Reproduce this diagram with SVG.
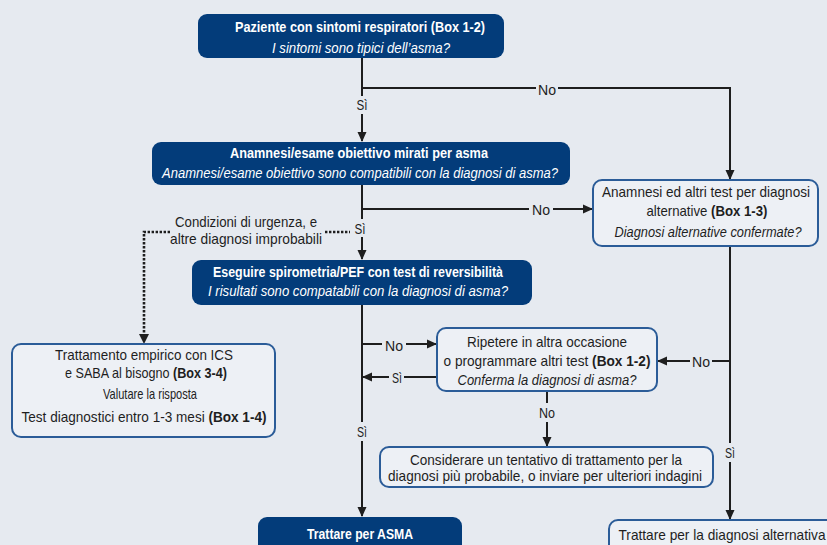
<svg xmlns="http://www.w3.org/2000/svg" width="827" height="545" viewBox="0 0 827 545">
<defs>
<style>
.bg{fill:#e6eaf0}
.blue{fill:#033c7a}
.out{fill:#edf0f5;stroke:#2b5c98;stroke-width:2}
.wt{fill:#ffffff;font-family:"Liberation Sans",Arial,sans-serif;font-size:15px;text-anchor:middle}
.dt{fill:#1e1e1e;font-family:"Liberation Sans",Arial,sans-serif;font-size:15px;text-anchor:middle}
.b{font-weight:bold}
.i{font-style:italic}
.ln{stroke:#1e1e1e;stroke-width:2;fill:none}
.dot{stroke:#1e1e1e;stroke-width:2.6;fill:none;stroke-dasharray:2.4 1.6}
</style>
<marker id="ah" markerWidth="10" markerHeight="10" refX="9" refY="5" orient="auto" markerUnits="userSpaceOnUse">
<path d="M0,0.5 L10,5 L0,9.5 Z" fill="#1e1e1e"/>
</marker>
</defs>
<rect class="bg" x="0" y="0" width="827" height="545"/>

<g id="connectors">
<!-- top box down to box2 -->
<line class="ln" x1="362" y1="58" x2="362" y2="96"/>
<line class="ln" x1="362" y1="114" x2="362" y2="141" marker-end="url(#ah)"/>
<!-- No branch to right box -->
<line class="ln" x1="362" y1="88" x2="536" y2="88"/>
<polyline class="ln" points="558,88 730,88 730,179" marker-end="url(#ah)"/>
<!-- box2 down to box3 -->
<line class="ln" x1="362" y1="185" x2="362" y2="219"/>
<line class="ln" x1="362" y1="237" x2="362" y2="259" marker-end="url(#ah)"/>
<!-- No branch to right box middle -->
<line class="ln" x1="362" y1="209" x2="529" y2="209"/>
<line class="ln" x1="553" y1="209" x2="592" y2="209" marker-end="url(#ah)"/>
<!-- dotted urgent path -->
<line class="dot" x1="325" y1="232" x2="350" y2="232"/>
<polyline class="dot" points="170,232 144,232 144,334"/>
<path d="M139,334 L149,334 L144,344 Z" fill="#1e1e1e"/>
<!-- box3 down to ASMA -->
<line class="ln" x1="362" y1="305" x2="362" y2="422"/>
<line class="ln" x1="362" y1="441" x2="362" y2="516" marker-end="url(#ah)"/>
<!-- No to Ripetere -->
<line class="ln" x1="362" y1="344" x2="382" y2="344"/>
<line class="ln" x1="406" y1="344" x2="436" y2="344" marker-end="url(#ah)"/>
<!-- Si back to left -->
<line class="ln" x1="437" y1="377" x2="404" y2="377"/>
<line class="ln" x1="389" y1="377" x2="363" y2="377" marker-end="url(#ah)"/>
<!-- Ripetere down to Considerare -->
<line class="ln" x1="547" y1="391" x2="547" y2="403"/>
<line class="ln" x1="547" y1="422" x2="547" y2="446" marker-end="url(#ah)"/>
<!-- right vertical -->
<line class="ln" x1="730" y1="246" x2="730" y2="443"/>
<line class="ln" x1="730" y1="462" x2="730" y2="519" marker-end="url(#ah)"/>
<!-- No right to Ripetere -->
<line class="ln" x1="730" y1="361" x2="712" y2="361"/>
<line class="ln" x1="690" y1="361" x2="658" y2="361" marker-end="url(#ah)"/>
<!-- labels -->
<text class="dt" x="547" y="95" textLength="18" lengthAdjust="spacingAndGlyphs">No</text>
<text class="dt" x="362" y="110" textLength="11" lengthAdjust="spacingAndGlyphs">Sì</text>
<text class="dt" x="541" y="215" textLength="18" lengthAdjust="spacingAndGlyphs">No</text>
<text class="dt" x="360" y="234" textLength="11" lengthAdjust="spacingAndGlyphs">Sì</text>
<text class="dt" x="394" y="351" textLength="18" lengthAdjust="spacingAndGlyphs">No</text>
<text class="dt" x="397" y="383" textLength="10" lengthAdjust="spacingAndGlyphs">Sì</text>
<text class="dt" x="701" y="367" textLength="18" lengthAdjust="spacingAndGlyphs">No</text>
<text class="dt" x="547" y="418" textLength="16" lengthAdjust="spacingAndGlyphs">No</text>
<text class="dt" x="362" y="437" textLength="10" lengthAdjust="spacingAndGlyphs">Sì</text>
<text class="dt" x="730" y="458" textLength="10" lengthAdjust="spacingAndGlyphs">Sì</text>
<text class="dt" x="246" y="227" textLength="142" lengthAdjust="spacingAndGlyphs">Condizioni di urgenza, e</text>
<text class="dt" x="246" y="244" textLength="152" lengthAdjust="spacingAndGlyphs">altre diagnosi improbabili</text>
</g>

<g id="node-pazienti">
<rect class="blue" x="198" y="14" width="306" height="44" rx="9"/>
<text class="wt b" x="360" y="32" textLength="250" lengthAdjust="spacingAndGlyphs">Paziente con sintomi respiratori (Box 1-2)</text>
<text class="wt i" x="361" y="53" textLength="178" lengthAdjust="spacingAndGlyphs">I sintomi sono tipici dell’asma?</text>
</g>

<g id="node-anamnesi">
<rect class="blue" x="152" y="142" width="418" height="43" rx="9"/>
<text class="wt b" x="359" y="158" textLength="258" lengthAdjust="spacingAndGlyphs">Anamnesi/esame obiettivo mirati per asma</text>
<text class="wt i" x="360" y="178" textLength="396" lengthAdjust="spacingAndGlyphs">Anamnesi/esame obiettivo sono compatibili con la diagnosi di asma?</text>
</g>

<g id="node-spirometria">
<rect class="blue" x="192" y="260" width="340" height="45" rx="9"/>
<text class="wt b" x="358" y="277" textLength="290" lengthAdjust="spacingAndGlyphs">Eseguire spirometria/PEF con test di reversibilità</text>
<text class="wt i" x="358" y="296" textLength="300" lengthAdjust="spacingAndGlyphs">I risultati sono compatabili con la diagnosi di asma?</text>
</g>

<g id="node-alternative">
<rect class="out" x="593" y="180" width="225" height="66" rx="9"/>
<text class="dt" x="706" y="197" textLength="208" lengthAdjust="spacingAndGlyphs">Anamnesi ed altri test per diagnosi</text>
<text class="dt" x="707" y="216" textLength="121" lengthAdjust="spacingAndGlyphs">alternative <tspan class="b">(Box 1-3)</tspan></text>
<text class="dt i" x="708" y="237" textLength="187" lengthAdjust="spacingAndGlyphs">Diagnosi alternative confermate?</text>
</g>

<g id="node-ripetere">
<rect class="out" x="437" y="328" width="220" height="63" rx="9"/>
<text class="dt" x="547" y="347" textLength="160" lengthAdjust="spacingAndGlyphs">Ripetere in altra occasione</text>
<text class="dt" x="547" y="366" textLength="207" lengthAdjust="spacingAndGlyphs">o programmare altri test <tspan class="b">(Box 1-2)</tspan></text>
<text class="dt i" x="547" y="385" textLength="179" lengthAdjust="spacingAndGlyphs">Conferma la diagnosi di asma?</text>
</g>

<g id="node-empirico">
<rect class="out" x="12" y="344" width="263" height="93" rx="9"/>
<text class="dt" x="144" y="360" textLength="178" lengthAdjust="spacingAndGlyphs">Trattamento empirico con ICS</text>
<text class="dt" x="146" y="378" textLength="162" lengthAdjust="spacingAndGlyphs">e SABA al bisogno <tspan class="b">(Box 3-4)</tspan></text>
<text class="dt" x="150" y="399" textLength="94" lengthAdjust="spacingAndGlyphs">Valutare la risposta</text>
<text class="dt" x="144" y="422" textLength="245" lengthAdjust="spacingAndGlyphs">Test diagnostici entro 1-3 mesi <tspan class="b">(Box 1-4)</tspan></text>
</g>

<g id="node-considerare">
<rect class="out" x="380" y="447" width="333" height="40" rx="9"/>
<text class="dt" x="546" y="465" textLength="272" lengthAdjust="spacingAndGlyphs">Considerare un tentativo di trattamento per la</text>
<text class="dt" x="545" y="481" textLength="314" lengthAdjust="spacingAndGlyphs">diagnosi più probabile, o inviare per ulteriori indagini</text>
</g>

<g id="node-asma">
<rect class="blue" x="258" y="517" width="204" height="40" rx="9"/>
<text class="wt b" x="360" y="539" textLength="106" lengthAdjust="spacingAndGlyphs">Trattare per ASMA</text>
</g>

<g id="node-trattare-alt">
<rect class="out" x="609" y="520" width="240" height="40" rx="9"/>
<text class="dt" x="722" y="540" textLength="207" lengthAdjust="spacingAndGlyphs">Trattare per la diagnosi alternativa</text>
</g>
</svg>
